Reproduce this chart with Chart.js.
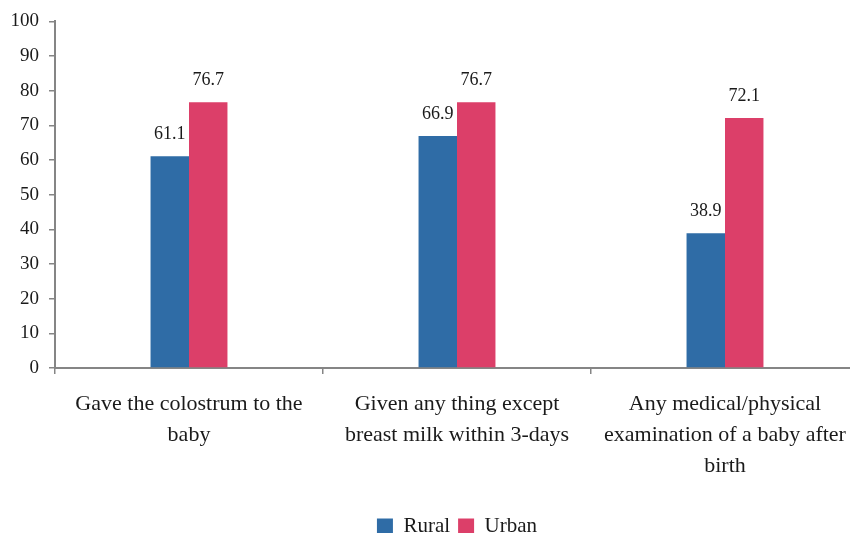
<!DOCTYPE html>
<html>
<head>
<meta charset="utf-8">
<script src="https://cdn.jsdelivr.net/npm/chart.js@4/dist/chart.umd.min.js"></script>
<style>
  html, body { margin: 0; padding: 0; background: #fff; overflow: hidden; }
  #wrap { position: relative; width: 914px; height: 533px; }
</style>
</head>
<body>
<div id="wrap"><canvas id="chart"></canvas></div>
<script>
// Categorías (etiquetas en varias líneas)
const categories = [
    ['Gave the colostrum to the', 'baby'],
    ['Given any thing except', 'breast milk within 3-days'],
    ['Any medical/physical', 'examination of a baby after', 'birth']
];
const rural = [61.1, 66.9, 38.9];
const urban = [76.7, 76.7, 72.1];
const yTicks = [0, 10, 20, 30, 40, 50, 60, 70, 80, 90, 100];

const FONT = '"Liberation Serif", "DejaVu Serif", serif';
const AXIS_COLOR = '#858585';

// Escribe el valor encima de cada barra
const valueLabels = {
    id: 'valueLabels',
    afterDatasetsDraw(chart) {
        const ctx = chart.ctx;
        ctx.save();
        ctx.font = '18px ' + FONT;
        ctx.fillStyle = '#1a1a1a';
        ctx.textAlign = 'center';
        ctx.textBaseline = 'alphabetic';
        chart.data.datasets.forEach((ds, i) => {
            chart.getDatasetMeta(i).data.forEach((bar, j) => {
                ctx.fillText(ds.data[j].toFixed(1), bar.x, bar.y - 17);
            });
        });
        ctx.restore();
    }
};

new Chart(document.getElementById('chart'), {
    type: 'bar',
    data: {
        labels: categories,
        datasets: [
            { label: 'Rural', data: rural, backgroundColor: '#2f6ca6' },
            { label: 'Urban', data: urban, backgroundColor: '#dc3f69' }
        ]
    },
    options: {
        responsive: true,
        maintainAspectRatio: false,
        animation: false,
        layout: { padding: { top: 19, right: 0, left: 0, bottom: -14 } },
        datasets: { bar: { categoryPercentage: 0.287, barPercentage: 1.0 } },
        scales: {
            x: {
                grid: { display: true, drawOnChartArea: false, offset: true, tickLength: 6, color: AXIS_COLOR, lineWidth: 1.5 },
                border: { color: AXIS_COLOR, width: 2 },
                ticks: {
                    color: '#1a1a1a',
                    font: { family: FONT, size: 22, lineHeight: 1.4 },
                    padding: 15,
                    maxRotation: 0,
                    autoSkip: false
                },
                afterFit(scale) { scale.height = 140; }
            },
            y: {
                min: 0,
                max: 100,
                afterBuildTicks(scale) { scale.ticks = yTicks.map(v => ({ value: v })); },
                grid: { display: true, drawOnChartArea: false, tickLength: 6, color: AXIS_COLOR, lineWidth: 1.5 },
                border: { color: AXIS_COLOR, width: 2 },
                ticks: {
                    color: '#1a1a1a',
                    font: { family: FONT, size: 19 },
                    padding: 10
                },
                afterFit(scale) { scale.width = 55; }
            },
            // eje derecho vacío, solo reserva margen
            yRight: {
                position: 'right',
                min: 0,
                max: 100,
                grid: { display: false },
                border: { display: false },
                ticks: { display: false },
                afterFit(scale) { scale.width = 55; }
            }
        },
        plugins: {
            legend: {
                position: 'bottom',
                labels: {
                    boxWidth: 16,
                    boxHeight: 16,
                    padding: 8,
                    color: '#1a1a1a',
                    font: { family: FONT, size: 21 }
                }
            },
            tooltip: { enabled: false }
        }
    },
    plugins: [valueLabels]
});
</script>
</body>
</html>
